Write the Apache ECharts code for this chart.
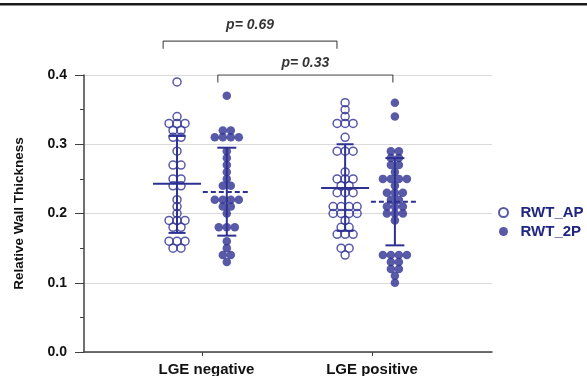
<!DOCTYPE html>
<html>
<head>
<meta charset="utf-8">
<script src="https://cdn.jsdelivr.net/npm/echarts@6/dist/echarts.min.js"></script>
<style>
  html, body { margin: 0; padding: 0; background: #fff; }
  #chart { width: 587px; height: 376px; }
</style>
</head>
<body>
<div id="chart"></div>
<script>
// RWT values (one dot per patient)
const apNeg = [0.39, 0.34, 0.33, 0.33, 0.33, 0.32, 0.32, 0.31, 0.31, 0.29, 0.27, 0.27, 0.25, 0.25,
  0.24, 0.24, 0.22, 0.21, 0.20, 0.19, 0.19, 0.19, 0.18, 0.18, 0.16, 0.16, 0.16, 0.15, 0.15];
const twoPNeg = [0.37, 0.32, 0.32, 0.31, 0.31, 0.31, 0.31, 0.29, 0.28, 0.27, 0.26, 0.25, 0.24, 0.24,
  0.22, 0.22, 0.22, 0.22, 0.21, 0.21, 0.20, 0.18, 0.18, 0.18, 0.16, 0.15, 0.14, 0.14, 0.13];
const apPos = [0.36, 0.35, 0.34, 0.33, 0.33, 0.33, 0.31, 0.29, 0.29, 0.29, 0.26, 0.25, 0.25, 0.25,
  0.24, 0.24, 0.23, 0.23, 0.23, 0.21, 0.21, 0.21, 0.21, 0.20, 0.20, 0.20, 0.20, 0.19, 0.18, 0.18,
  0.17, 0.17, 0.17, 0.15, 0.15, 0.14];
const twoPPos = [0.36, 0.34, 0.29, 0.29, 0.28, 0.28, 0.27, 0.27, 0.26, 0.25, 0.25, 0.25, 0.25, 0.24,
  0.23, 0.23, 0.23, 0.22, 0.22, 0.21, 0.21, 0.21, 0.20, 0.20, 0.20, 0.19, 0.14, 0.14, 0.14, 0.14,
  0.13, 0.13, 0.12, 0.12, 0.11, 0.10];

// mean, mean-SD, mean+SD as drawn
const means = [0.243, 0.231, 0.237, 0.217];
const sdLow = [0.172, 0.168, 0.175, 0.154];
const sdHigh = [0.312, 0.295, 0.300, 0.280];

const categories = ['LGE negative', 'LGE positive'];
const seriesNames = ['RWT_AP', 'RWT_2P'];
const pLabels = ['p= 0.69', 'p= 0.33'];

// layout (x axis runs 0..1 across the plot)
const colX = [0.228, 0.350, 0.640, 0.762];
const tickX = [0.289, 0.706];
const labelX = [0.30, 0.706];
const brackets = [
  { x1: 0.194, x2: 0.620, y: 0.449, drop: 0.011, ty: 0.472 },
  { x1: 0.328, x2: 0.757, y: 0.400, drop: 0.011, ty: 0.417 },
];

const BLUE = '#2E3192';
const FONT = "'Liberation Sans', Arial, sans-serif";
const PLOT_W = 408;
const DOT_STEP = 8 / PLOT_W;

// simple swarm: dots with the same value spread sideways around the column
function swarm(values, cx) {
  const rows = {};
  values.forEach(v => { const k = v.toFixed(2); (rows[k] = rows[k] || []).push(v); });
  const out = [];
  Object.values(rows).forEach(r => {
    r.forEach((v, i) => out.push([cx + (i - (r.length - 1) / 2) * DOT_STEP, v]));
  });
  return out;
}

const chart = echarts.init(document.getElementById('chart'), null, { renderer: 'canvas' });

const summaryData = means.map((m, i) => [colX[i], m, sdLow[i], sdHigh[i], i % 2]);

function renderSummary(params, api) {
  const x = api.value(0);
  const dashed = api.value(4) === 1;
  const pm = api.coord([x, api.value(1)]);
  const pl = api.coord([x, api.value(2)]);
  const ph = api.coord([x, api.value(3)]);
  const cap = dashed ? 9.5 : 8.5;
  const st = { stroke: BLUE, lineWidth: 2 };
  return {
    type: 'group',
    children: [
      { type: 'line', shape: { x1: pl[0], y1: pl[1], x2: ph[0], y2: ph[1] }, style: st },
      { type: 'line', shape: { x1: pl[0] - cap, y1: pl[1], x2: pl[0] + cap, y2: pl[1] }, style: st },
      { type: 'line', shape: { x1: ph[0] - cap, y1: ph[1], x2: ph[0] + cap, y2: ph[1] }, style: st },
      {
        type: 'line',
        shape: { x1: pm[0] - 24, y1: pm[1], x2: pm[0] + 24, y2: pm[1] },
        style: { stroke: BLUE, lineWidth: 2, lineDash: dashed ? [5, 3] : null },
      },
    ],
  };
}

const openDot = { color: 'rgba(255,255,255,0)', borderColor: BLUE, borderWidth: 1.5 };

const option = {
  animation: false,
  backgroundColor: '#fff',
  textStyle: { fontFamily: FONT },
  grid: { left: 84, right: 95, top: 75, bottom: 24, outerBoundsMode: 'none' },
  legend: {
    data: seriesNames,
    orient: 'vertical',
    left: 493,
    top: 200,
    itemWidth: 24,
    itemHeight: 9,
    itemGap: 4,
    icon: 'circle',
    textStyle: { fontFamily: FONT, fontSize: 15, fontWeight: 'bold', color: '#1F2580' },
  },
  xAxis: {
    type: 'value',
    min: 0,
    max: 1,
    splitLine: { show: false },
    axisLine: { lineStyle: { color: '#404040', width: 1.5 } },
    axisTick: { show: true, length: 4, customValues: tickX, lineStyle: { color: '#404040' } },
    axisLabel: {
      customValues: labelX,
      formatter: v => categories[labelX.indexOf(v)] || '',
      margin: 10,
      color: '#111',
      fontSize: 15,
      fontWeight: 'bold',
      fontFamily: FONT,
    },
  },
  yAxis: {
    type: 'value',
    min: 0,
    max: 0.4,
    interval: 0.1,
    name: 'Relative Wall Thickness',
    nameLocation: 'middle',
    nameGap: 58,
    nameTextStyle: { color: '#111', fontSize: 13.5, fontWeight: 'bold', fontFamily: FONT },
    axisLine: { show: true, lineStyle: { color: '#404040', width: 1.5 } },
    axisTick: { show: true, length: 9, lineStyle: { color: '#404040' } },
    minorTick: { show: true, splitNumber: 2, length: 4, lineStyle: { color: '#404040' } },
    axisLabel: {
      formatter: v => v.toFixed(1),
      margin: 17,
      color: '#111',
      fontSize: 14,
      fontWeight: 'bold',
      fontFamily: FONT,
    },
    splitLine: { show: true, lineStyle: { color: '#DADADA', width: 1 } },
  },
  series: [
    {
      name: 'RWT_AP',
      type: 'scatter',
      symbolSize: 8,
      itemStyle: openDot,
      data: swarm(apNeg, colX[0]).concat(swarm(apPos, colX[2])),
      z: 3,
    },
    {
      name: 'RWT_2P',
      type: 'scatter',
      symbolSize: 8.5,
      itemStyle: { color: BLUE },
      data: swarm(twoPNeg, colX[1]).concat(swarm(twoPPos, colX[3])),
      z: 3,
    },
    {
      name: 'summary',
      type: 'custom',
      renderItem: renderSummary,
      data: summaryData,
      z: 4,
      silent: true,
    },
    ...brackets.map((b, i) => ({
      name: 'bracket' + i,
      type: 'line',
      clip: false,
      symbol: 'none',
      silent: true,
      lineStyle: { color: '#555', width: 1.2 },
      data: [[b.x1, b.y - b.drop], [b.x1, b.y], [b.x2, b.y], [b.x2, b.y - b.drop]],
    })),
    {
      name: 'pvalues',
      type: 'scatter',
      clip: false,
      symbolSize: 1,
      silent: true,
      itemStyle: { color: 'rgba(0,0,0,0)' },
      label: {
        show: true,
        position: 'inside',
        formatter: p => p.data[2],
        color: '#000',
        textBorderWidth: 0,
        fontSize: 14,
        fontWeight: 'bold',
        fontStyle: 'italic',
        fontFamily: FONT,
      },
      data: brackets.map((b, i) => [(b.x1 + b.x2) / 2, b.ty, pLabels[i]]),
    },
  ],
  graphic: [
    { type: 'rect', left: 0, top: 3, shape: { width: 587, height: 2.5 }, style: { fill: '#1a1a1a' } },
  ],
};

chart.setOption(option);
</script>
</body>
</html>
